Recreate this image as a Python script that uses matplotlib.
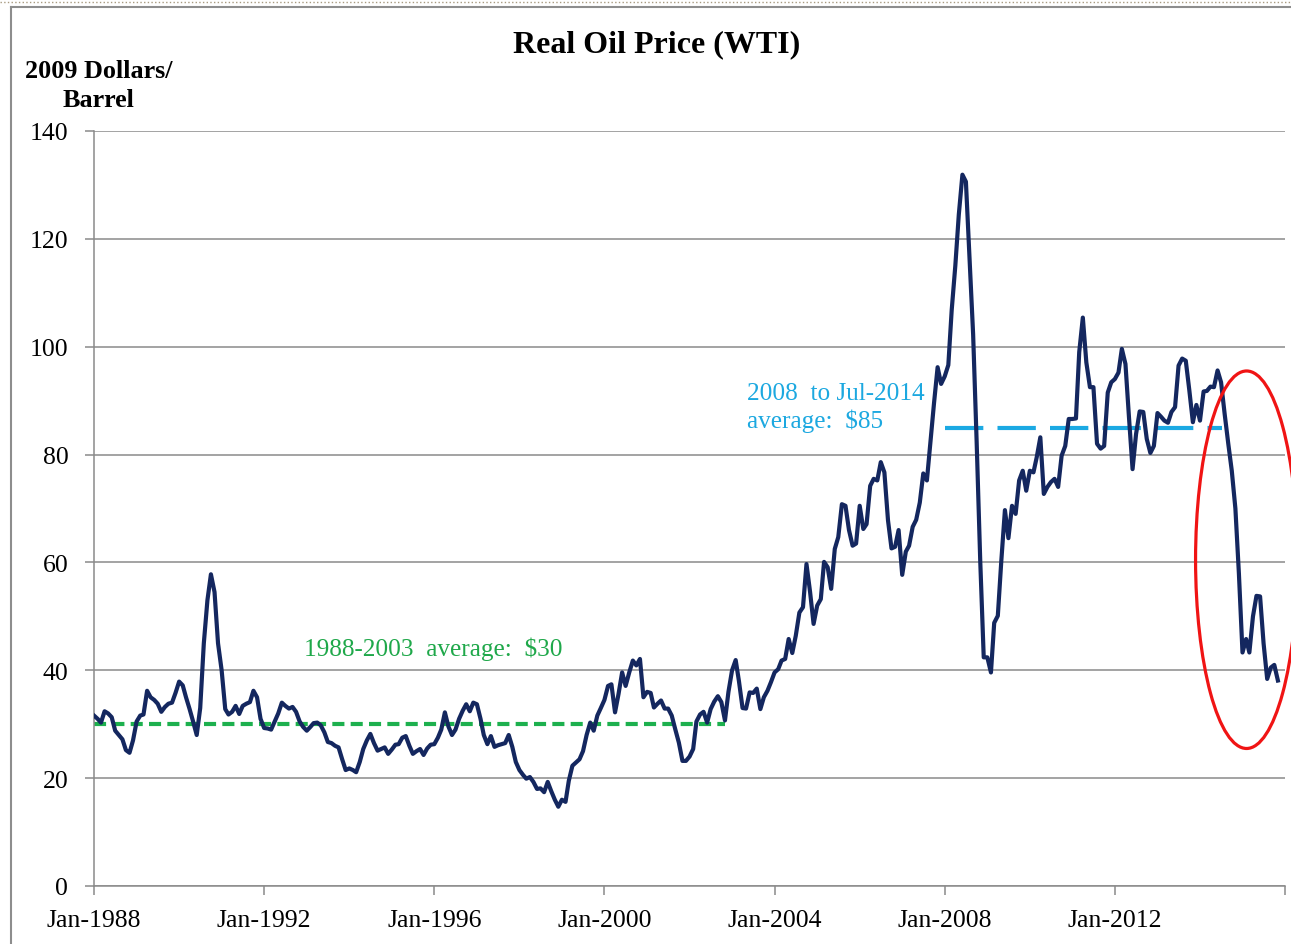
import matplotlib
matplotlib.use('Agg')
import matplotlib.pyplot as plt
import matplotlib.dates as mdates
from matplotlib.patches import Ellipse
from matplotlib.lines import Line2D
import pandas as pd

plt.rcParams['font.family'] = ['Liberation Serif', 'DejaVu Serif']

# monthly real WTI price, 2009 dollars per barrel
p1988 = [31.6, 31.0, 30.3, 32.4, 32.0, 31.3, 28.8, 28.0, 27.2, 25.2, 24.7, 27.0]
p1989 = [30.5, 31.6, 31.8, 36.2, 35.0, 34.5, 33.8, 32.3, 33.2, 33.8, 34.0, 35.8]
p1990 = [37.9, 37.2, 35.0, 32.8, 30.5, 28.0, 33.0, 45.0, 53.0, 57.8, 54.5, 45.0]
p1991 = [40.0, 32.8, 31.8, 32.3, 33.4, 31.9, 33.4, 33.8, 34.1, 36.2, 35.0, 31.0]
p1992 = [29.3, 29.2, 29.0, 30.5, 32.0, 34.0, 33.4, 32.9, 33.2, 32.3, 30.5, 29.5]
p1993 = [28.8, 29.5, 30.2, 30.3, 29.8, 28.5, 26.7, 26.5, 26.0, 25.7, 23.5, 21.5]
p1994 = [21.8, 21.5, 21.1, 23.0, 25.4, 27.0, 28.2, 26.5, 25.1, 25.4, 25.7, 24.5]
p1995 = [25.3, 26.2, 26.3, 27.5, 27.8, 26.0, 24.5, 25.0, 25.4, 24.3, 25.5, 26.2]
p1996 = [26.3, 27.5, 29.0, 32.2, 29.6, 28.0, 29.0, 31.0, 32.5, 33.7, 32.4, 34.0]
p1997 = [33.7, 31.0, 28.0, 26.3, 27.8, 25.8, 26.1, 26.3, 26.5, 28.0, 25.8, 23.0]
p1998 = [21.5, 20.6, 19.9, 20.2, 19.3, 18.0, 18.1, 17.4, 19.3, 17.6, 16.0, 14.7]
p1999 = [16.0, 15.6, 19.5, 22.3, 22.9, 23.5, 25.0, 28.0, 30.3, 28.8, 31.6, 33.0]
p2000 = [34.5, 37.1, 37.4, 32.2, 35.6, 39.6, 37.1, 39.6, 41.8, 40.9, 42.1, 35.0]
p2001 = [36.0, 35.8, 33.1, 33.8, 34.4, 32.9, 32.9, 31.6, 29.0, 26.6, 23.2, 23.2]
p2002 = [24.0, 25.4, 30.5, 31.8, 32.3, 30.3, 32.8, 34.2, 35.2, 34.1, 30.7, 36.0]
p2003 = [40.0, 41.9, 38.0, 33.0, 32.9, 35.9, 35.8, 36.6, 32.8, 35.0, 36.2, 37.8]
p2004 = [39.6, 40.2, 41.8, 42.1, 45.8, 43.2, 46.4, 50.7, 51.7, 59.7, 54.5, 48.6]
p2005 = [52.0, 53.2, 60.1, 59.1, 55.1, 62.5, 64.7, 70.8, 70.5, 66.0, 63.1, 63.5]
p2006 = [70.5, 66.2, 67.1, 74.2, 75.5, 75.2, 78.6, 76.7, 67.8, 62.6, 62.9, 66.0]
p2007 = [57.7, 62.0, 63.1, 66.6, 67.9, 71.1, 76.5, 75.2, 82.5, 89.5, 96.2, 93.1]
p2008 = [94.5, 96.6, 106.8, 115.0, 124.5, 131.9, 130.6, 116.3, 102.3, 82.5, 60.3, 42.4]
p2009 = [42.4, 39.6, 48.8, 50.1, 60.3, 69.7, 64.5, 70.5, 69.0, 75.2, 77.0, 73.3]
p2010 = [77.0, 76.7, 79.5, 83.2, 72.7, 74.0, 74.9, 75.5, 74.0, 79.8, 81.6, 86.6]
p2011 = [86.6, 86.7, 99.0, 105.4, 97.1, 92.5, 92.5, 82.0, 81.1, 81.6, 91.5, 93.4]
p2012 = [94.0, 95.2, 99.6, 96.8, 87.0, 77.3, 83.8, 88.0, 87.9, 82.9, 80.3, 81.6]
p2013 = [87.7, 87.0, 86.3, 85.9, 87.9, 88.8, 96.5, 97.8, 97.4, 92.0, 86.0, 89.2]
p2014 = [86.3, 91.7, 91.8, 92.6, 92.5, 95.6, 93.4, 87.5, 82.0, 77.0, 70.0, 58.0]
p2015 = [43.3, 45.8, 43.3, 50.0, 53.8, 53.7, 45.0, 38.4, 40.5, 41.0, 38.1]

prices = (p1988 + p1989 + p1990 + p1991 + p1992 + p1993 + p1994 + p1995 + p1996
          + p1997 + p1998 + p1999 + p2000 + p2001 + p2002 + p2003 + p2004 + p2005
          + p2006 + p2007 + p2008 + p2009 + p2010 + p2011 + p2012 + p2013 + p2014
          + p2015)
months = pd.date_range('1988-01-01', periods=len(prices), freq='MS')

# averages shown as dashed lines
early_avg = 30
early_span = [pd.Timestamp('1988-01-01'), pd.Timestamp('2002-11-01')]
late_avg = 85
late_span = [pd.Timestamp('2008-01-01'), pd.Timestamp('2014-07-10')]

tick_years = [1988, 1992, 1996, 2000, 2004, 2008, 2012, 2016]
tick_labels = ['Jan-1988', 'Jan-1992', 'Jan-1996', 'Jan-2000', 'Jan-2004',
               'Jan-2008', 'Jan-2012', '']

W, H = 1291, 945
fig = plt.figure(figsize=(W / 100, H / 100), dpi=100)
ax = fig.add_axes([94 / W, 1 - 887 / H, (1285 - 94) / W, (887 - 132) / H])

grey = '#8a8a8a'
ax.plot(months, prices, color='#14275F', lw=3, solid_joinstyle='round', zorder=3)
ax.plot(early_span, [early_avg, early_avg], color='#1DB04E', lw=3,
        dashes=(2.9, 1.5), zorder=2)
ax.plot(late_span, [late_avg, late_avg], color='#1BA9E3', lw=3,
        dashes=(9.2, 3.4), zorder=2)

ax.set_ylim(0, 140)
ax.set_yticks(range(0, 141, 20))
ax.set_xlim(pd.Timestamp('1988-01-01'), pd.Timestamp('2016-01-01'))
ax.set_xticks([pd.Timestamp(f'{y}-01-01') for y in tick_years])
ax.set_xticklabels(tick_labels)
ax.yaxis.grid(True, color=grey, lw=1.1)
ax.set_axisbelow(True)
for s in ['top', 'right']:
    ax.spines[s].set_visible(False)
for s in ['left', 'bottom']:
    ax.spines[s].set_color(grey)
    ax.spines[s].set_linewidth(1.1)
ax.tick_params(axis='both', colors=grey, labelcolor='black', labelsize=18.5,
               length=6.5, width=1.1)
ax.tick_params(axis='y', pad=12)
ax.tick_params(axis='x', pad=10)

# red ellipse around the 2014-15 collapse
cx = mdates.date2num(pd.Timestamp('2015-02-05'))
ax.add_patch(Ellipse((cx, 60.5), width=876, height=70, fill=False,
                     ec='#F01414', lw=2.3, clip_on=False, zorder=4))

fig.text(657 / W, 1 - 45 / H, 'Real Oil Price (WTI)', ha='center', va='center',
         fontsize=23, fontweight='bold')
fig.text(98.5 / W, 1 - 86 / H, '2009 Dollars/\nBarrel', ha='center', va='center',
         multialignment='center', fontsize=18.8, fontweight='bold', linespacing=1.35)
fig.text(304 / W, 1 - 649 / H, '1988-2003  average:  $30', ha='left', va='center',
         fontsize=18.2, color='#1FA84A')
fig.text(747 / W, 1 - 408 / H, '2008  to Jul-2014\naverage:  $85', ha='left',
         va='center', fontsize=18.2, color='#1CA8E0', linespacing=1.25)

# chart frame
fig.add_artist(Line2D([11 / W, 11 / W], [0, 1 - 8 / H], color='#8d8d8d', lw=1.5))
fig.add_artist(Line2D([11 / W, 1], [1 - 8 / H, 1 - 8 / H], color='#8d8d8d', lw=1.5))
fig.add_artist(Line2D([0, 1], [1 - 3 / H, 1 - 3 / H], color='#a89a80', lw=1,
                      linestyle=':'))

fig.savefig('out.png', dpi=100)
